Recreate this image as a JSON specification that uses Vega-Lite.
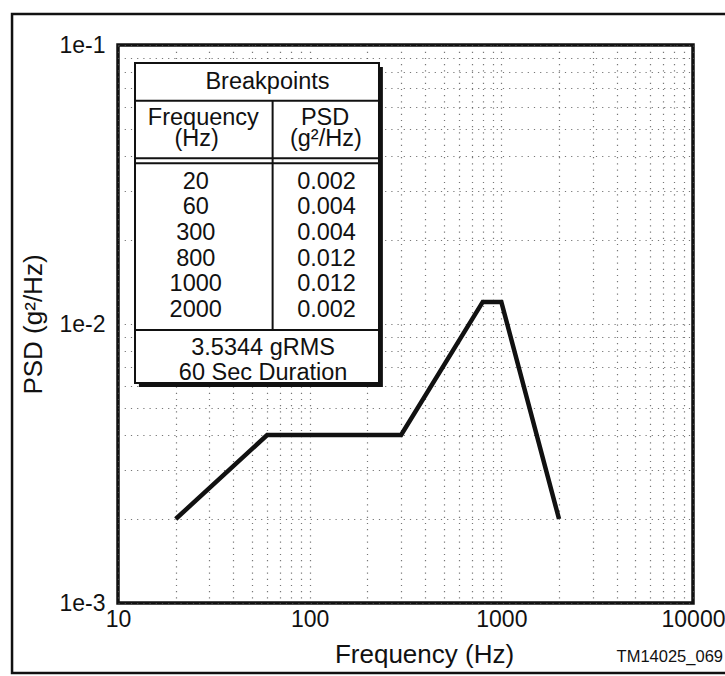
{
  "$schema": "https://vega.github.io/schema/vega-lite/v6.json",
  "width": 575,
  "height": 558,
  "autosize": {"type": "none"},
  "padding": {"left": 118, "top": 45, "right": 32, "bottom": 73},
  "background": "white",
  "config": {
    "view": {"stroke": "#111", "strokeWidth": 3.5},
    "font": "Liberation Sans",
    "text": {"font": "Liberation Sans", "color": "#111"}
  },
  "title": {
    "text": "TM14025_069",
    "orient": "bottom",
    "anchor": "end",
    "frame": "group",
    "font": "Liberation Sans",
    "fontSize": 16.5,
    "fontWeight": "normal",
    "color": "#111",
    "offset": -25,
    "dx": 30
  },
  "datasets": {
    "psd": [
      {"freq": 20, "psd": 0.002},
      {"freq": 60, "psd": 0.004},
      {"freq": 300, "psd": 0.004},
      {"freq": 800, "psd": 0.012},
      {"freq": 1000, "psd": 0.012},
      {"freq": 2000, "psd": 0.002}
    ]
  },
  "resolve": {"scale": {"x": "independent", "y": "independent"}},
  "layer": [
    {
      "data": {"name": "psd"},
      "mark": {"type": "line", "stroke": "#111", "strokeWidth": 4.5, "strokeJoin": "miter"},
      "encoding": {
        "x": {
          "field": "freq",
          "type": "quantitative",
          "scale": {"type": "log", "domain": [10, 10000], "nice": false},
          "axis": {
            "values": [10, 20, 30, 40, 50, 60, 70, 80, 90, 100, 200, 300, 400, 500, 600, 700, 800, 900, 1000, 2000, 3000, 4000, 5000, 6000, 7000, 8000, 9000, 10000],
            "labelExpr": "(datum.value == 10 || datum.value == 100 || datum.value == 1000 || datum.value == 10000) ? format(datum.value, 'd') : ''",
            "labelFontSize": 23,
            "labelFont": "Liberation Sans",
            "labelColor": "#111",
            "labelPadding": 5,
            "labelFlush": false,
            "labelOverlap": false,
            "ticks": false,
            "domain": false,
            "grid": true,
            "gridColor": "#555",
            "gridDash": [1.2, 5],
            "gridWidth": 1.2,
            "gridOpacity": 0.8,
            "title": "Frequency (Hz)",
            "titleFont": "Liberation Sans",
            "titleFontSize": 26,
            "titleFontWeight": "normal",
            "titleColor": "#111",
            "titlePadding": 10,
            "titleX": 306
          }
        },
        "y": {
          "field": "psd",
          "type": "quantitative",
          "scale": {"type": "log", "domain": [0.001, 0.1], "nice": false},
          "axis": {
            "values": [0.001, 0.002, 0.003, 0.004, 0.005, 0.006, 0.007, 0.008, 0.009, 0.01, 0.02, 0.03, 0.04, 0.05, 0.06, 0.07, 0.08, 0.09, 0.1],
            "labelExpr": "datum.value == 0.1 ? '1e-1' : (datum.value == 0.01 ? '1e-2' : (datum.value == 0.001 ? '1e-3' : ''))",
            "labelFontSize": 23,
            "labelFont": "Liberation Sans",
            "labelColor": "#111",
            "labelPadding": 13,
            "labelFlush": false,
            "labelOverlap": false,
            "ticks": false,
            "domain": false,
            "grid": true,
            "gridColor": "#555",
            "gridDash": [1.2, 5],
            "gridWidth": 1.2,
            "gridOpacity": 0.8,
            "title": "PSD (g²/Hz)",
            "titleFont": "Liberation Sans",
            "titleFontSize": 26,
            "titleFontWeight": "normal",
            "titleColor": "#111",
            "titlePadding": 12
          }
        }
      }
    },
    {
      "data": {"values": [{}]},
      "mark": {"type": "rect", "fillOpacity": 0, "stroke": "#111", "strokeWidth": 2.5, "clip": false},
      "encoding": {
        "x": {"datum": 2.8, "type": "quantitative", "scale": {"type": "log", "domain": [10, 10000], "nice": false}, "axis": null},
        "x2": {"datum": 16560},
        "y": {"datum": 0.1292, "type": "quantitative", "scale": {"type": "log", "domain": [0.001, 0.1], "nice": false}, "axis": null},
        "y2": {"datum": 0.000561}
      }
    },
    {
      "data": {"values": [{}]},
      "layer": [
        {
          "mark": {"type": "rect", "fill": "#111"},
          "encoding": {
            "x": {"datum": 0.016, "type": "quantitative", "scale": {"domain": [-0.0697, 2.287], "nice": false, "zero": false}, "axis": null},
            "x2": {"datum": 1.016},
            "y": {"datum": 0.156, "type": "quantitative", "scale": {"domain": [-0.7, 21.01], "nice": false, "zero": false, "reverse": true}, "axis": null},
            "y2": {"datum": 12.61}
          }
        },
        {
          "mark": {"type": "rect", "fill": "white", "stroke": "#111", "strokeWidth": 2},
          "encoding": {
            "x": {"datum": 0, "type": "quantitative", "scale": {"domain": [-0.0697, 2.287], "nice": false, "zero": false}, "axis": null},
            "x2": {"datum": 1},
            "y": {"datum": 0, "type": "quantitative", "scale": {"domain": [-0.7, 21.01], "nice": false, "zero": false, "reverse": true}, "axis": null},
            "y2": {"datum": 12.45}
          }
        },
        {
          "mark": {"type": "rule", "stroke": "#111", "strokeWidth": 2},
          "encoding": {
            "x": {"datum": 0, "type": "quantitative", "scale": {"domain": [-0.0697, 2.287], "nice": false, "zero": false}, "axis": null},
            "x2": {"datum": 1},
            "y": {"datum": 1.47, "type": "quantitative", "scale": {"domain": [-0.7, 21.01], "nice": false, "zero": false, "reverse": true}, "axis": null}
          }
        },
        {
          "mark": {"type": "rule", "stroke": "#111", "strokeWidth": 2},
          "encoding": {
            "x": {"datum": 0, "type": "quantitative", "scale": {"domain": [-0.0697, 2.287], "nice": false, "zero": false}, "axis": null},
            "x2": {"datum": 1},
            "y": {"datum": 3.71, "type": "quantitative", "scale": {"domain": [-0.7, 21.01], "nice": false, "zero": false, "reverse": true}, "axis": null}
          }
        },
        {
          "mark": {"type": "rule", "stroke": "#111", "strokeWidth": 2},
          "encoding": {
            "x": {"datum": 0, "type": "quantitative", "scale": {"domain": [-0.0697, 2.287], "nice": false, "zero": false}, "axis": null},
            "x2": {"datum": 1},
            "y": {"datum": 3.9, "type": "quantitative", "scale": {"domain": [-0.7, 21.01], "nice": false, "zero": false, "reverse": true}, "axis": null}
          }
        },
        {
          "mark": {"type": "rule", "stroke": "#111", "strokeWidth": 2},
          "encoding": {
            "x": {"datum": 0, "type": "quantitative", "scale": {"domain": [-0.0697, 2.287], "nice": false, "zero": false}, "axis": null},
            "x2": {"datum": 1},
            "y": {"datum": 10.39, "type": "quantitative", "scale": {"domain": [-0.7, 21.01], "nice": false, "zero": false, "reverse": true}, "axis": null}
          }
        },
        {
          "mark": {"type": "rule", "stroke": "#111", "strokeWidth": 2},
          "encoding": {
            "x": {"datum": 0.564, "type": "quantitative", "scale": {"domain": [-0.0697, 2.287], "nice": false, "zero": false}, "axis": null},
            "y": {"datum": 1.47, "type": "quantitative", "scale": {"domain": [-0.7, 21.01], "nice": false, "zero": false, "reverse": true}, "axis": null},
            "y2": {"datum": 10.39}
          }
        },
        {
          "mark": {"type": "text", "text": "Breakpoints", "fontSize": 23.5, "baseline": "middle", "align": "center"},
          "encoding": {
            "x": {"datum": 0.543, "type": "quantitative", "scale": {"domain": [-0.0697, 2.287], "nice": false, "zero": false}, "axis": null},
            "y": {"datum": 0.73, "type": "quantitative", "scale": {"domain": [-0.7, 21.01], "nice": false, "zero": false, "reverse": true}, "axis": null}
          }
        },
        {
          "mark": {"type": "text", "text": "Frequency", "fontSize": 23.5, "baseline": "middle", "align": "center"},
          "encoding": {
            "x": {"datum": 0.28, "type": "quantitative", "scale": {"domain": [-0.0697, 2.287], "nice": false, "zero": false}, "axis": null},
            "y": {"datum": 2.14, "type": "quantitative", "scale": {"domain": [-0.7, 21.01], "nice": false, "zero": false, "reverse": true}, "axis": null}
          }
        },
        {
          "mark": {"type": "text", "text": "(Hz)", "fontSize": 23.5, "baseline": "middle", "align": "center"},
          "encoding": {
            "x": {"datum": 0.253, "type": "quantitative", "scale": {"domain": [-0.0697, 2.287], "nice": false, "zero": false}, "axis": null},
            "y": {"datum": 2.96, "type": "quantitative", "scale": {"domain": [-0.7, 21.01], "nice": false, "zero": false, "reverse": true}, "axis": null}
          }
        },
        {
          "mark": {"type": "text", "text": "PSD", "fontSize": 23.5, "baseline": "middle", "align": "center"},
          "encoding": {
            "x": {"datum": 0.779, "type": "quantitative", "scale": {"domain": [-0.0697, 2.287], "nice": false, "zero": false}, "axis": null},
            "y": {"datum": 2.14, "type": "quantitative", "scale": {"domain": [-0.7, 21.01], "nice": false, "zero": false, "reverse": true}, "axis": null}
          }
        },
        {
          "mark": {"type": "text", "text": "(g²/Hz)", "fontSize": 23.5, "baseline": "middle", "align": "center"},
          "encoding": {
            "x": {"datum": 0.782, "type": "quantitative", "scale": {"domain": [-0.0697, 2.287], "nice": false, "zero": false}, "axis": null},
            "y": {"datum": 2.96, "type": "quantitative", "scale": {"domain": [-0.7, 21.01], "nice": false, "zero": false, "reverse": true}, "axis": null}
          }
        },
        {
          "mark": {"type": "text", "text": "3.5344 gRMS", "fontSize": 23.5, "baseline": "middle", "align": "center"},
          "encoding": {
            "x": {"datum": 0.525, "type": "quantitative", "scale": {"domain": [-0.0697, 2.287], "nice": false, "zero": false}, "axis": null},
            "y": {"datum": 11.08, "type": "quantitative", "scale": {"domain": [-0.7, 21.01], "nice": false, "zero": false, "reverse": true}, "axis": null}
          }
        },
        {
          "mark": {"type": "text", "text": "60 Sec Duration", "fontSize": 23.5, "baseline": "middle", "align": "center"},
          "encoding": {
            "x": {"datum": 0.525, "type": "quantitative", "scale": {"domain": [-0.0697, 2.287], "nice": false, "zero": false}, "axis": null},
            "y": {"datum": 12.07, "type": "quantitative", "scale": {"domain": [-0.7, 21.01], "nice": false, "zero": false, "reverse": true}, "axis": null}
          }
        }
      ]
    },
    {
      "data": {"name": "psd"},
      "transform": [{"window": [{"op": "row_number", "as": "row"}], "sort": [{"field": "freq"}]}],
      "layer": [
        {
          "mark": {"type": "text", "fontSize": 23.5, "baseline": "middle", "align": "center"},
          "encoding": {
            "x": {"datum": 0.249, "type": "quantitative", "scale": {"domain": [-0.0697, 2.287], "nice": false, "zero": false}, "axis": null},
            "y": {"field": "row", "type": "quantitative", "scale": {"domain": [-4.319, 17.393], "nice": false, "zero": false, "reverse": true}, "axis": null},
            "text": {"field": "freq", "type": "quantitative", "format": "d"}
          }
        },
        {
          "mark": {"type": "text", "fontSize": 23.5, "baseline": "middle", "align": "center"},
          "encoding": {
            "x": {"datum": 0.785, "type": "quantitative", "scale": {"domain": [-0.0697, 2.287], "nice": false, "zero": false}, "axis": null},
            "y": {"field": "row", "type": "quantitative", "scale": {"domain": [-4.319, 17.393], "nice": false, "zero": false, "reverse": true}, "axis": null},
            "text": {"field": "psd", "type": "quantitative", "format": ".3f"}
          }
        }
      ]
    }
  ]
}
